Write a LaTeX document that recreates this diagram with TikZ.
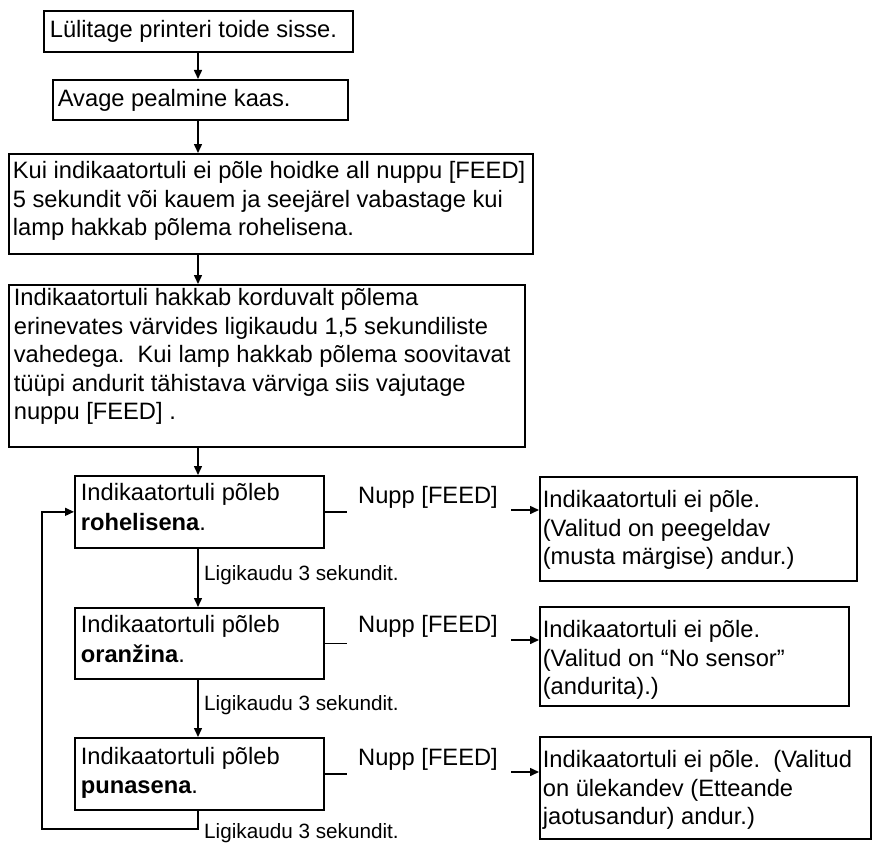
\documentclass[tikz,border=0pt]{standalone}
\usepackage{fontspec}
\setmainfont{Liberation Sans}
\usetikzlibrary{arrows.meta}
\newcommand{\bt}[4]{\parbox[t][#2][t]{#1}{\raggedright\rule{0pt}{#3}#4}}
\begin{document}
\begin{tikzpicture}[x=1pt,y=-1pt,
  box/.style={draw, line width=1.7pt, anchor=north west, inner ysep=0pt,
    font=\fontsize{23.7}{28.5}\selectfont},
  lab/.style={anchor=base west, inner sep=0pt, font=\fontsize{23.7}{28.5}\selectfont},
  slab/.style={anchor=base west, inner sep=0pt, font=\fontsize{20.7}{24}\selectfont},
  conn/.style={line width=1.5pt},
  arr/.style={conn, -{Triangle[length=9pt,width=8pt]}}]
\useasboundingbox (0,0) rectangle (873,843);

% main column
\node[box, inner xsep=6pt] (b1) at (43,10) {\bt{297pt}{41pt}{27pt}{Lülitage printeri toide sisse.}};
\node[box, inner xsep=5pt] (b2) at (52,79) {\bt{285pt}{40pt}{27pt}{Avage pealmine kaas.}};
\node[box, inner xsep=4pt] (b3) at (8,153) {\bt{516pt}{100pt}{25pt}{Kui indikaatortuli ei põle hoidke all nuppu [FEED]\\
5 sekundit või kauem ja seejärel vabastage kui\\
lamp hakkab põlema rohelisena.}};
\node[box, inner xsep=5pt] (b4) at (8,284) {\bt{506pt}{162pt}{21pt}{Indikaatortuli hakkab korduvalt põlema\\
erinevates värvides ligikaudu 1,5 sekundiliste\\
vahedega.\ \ Kui lamp hakkab põlema soovitavat\\
tüüpi andurit tähistava värviga siis vajutage\\
nuppu [FEED] .}};

% colour boxes
\node[box, inner xsep=6pt] (green) at (74,475) {\bt{237pt}{72pt}{25pt}{Indikaatortuli põleb\\[1.5pt] \textbf{rohelisena}.}};
\node[box, inner xsep=6pt] (orange) at (74,607) {\bt{237pt}{71pt}{25pt}{Indikaatortuli põleb\\[1.5pt] \textbf{oranžina}.}};
\node[box, inner xsep=6pt] (red) at (74,737) {\bt{237pt}{72pt}{27pt}{Indikaatortuli põleb\\[0.5pt] \textbf{punasena}.}};

% result boxes
\node[box, inner xsep=3pt] (r1) at (539,476) {\bt{311pt}{104pt}{31pt}{Indikaatortuli ei põle.\\
(Valitud on peegeldav\\
(musta märgise) andur.)}};
\node[box, inner xsep=3pt] (r2) at (539,606) {\bt{303pt}{99pt}{31pt}{Indikaatortuli ei põle.\\
(Valitud on “No sensor”\\
(andurita).)}};
\node[box, inner xsep=3pt] (r3) at (539,736) {\bt{325pt}{102pt}{31pt}{Indikaatortuli ei põle.\ \ (Valitud\\
on ülekandev (Etteande\\
jaotusandur) andur.)}};

% labels
\node[lab] (nupp1) at (358,503) {Nupp [FEED]};
\node[lab] (nupp2) at (358,632) {Nupp [FEED]};
\node[lab] (nupp3) at (358,765) {Nupp [FEED]};
\node[slab] (lig1) at (204,580) {Ligikaudu 3 sekundit.};
\node[slab] (lig2) at (204,710) {Ligikaudu 3 sekundit.};
\node[slab] (lig3) at (204,838) {Ligikaudu 3 sekundit.};

% vertical connectors
\coordinate (col) at (198,0);
\draw[arr] (b1.south -| col) -- (b2.north -| col);
\draw[arr] (b2.south -| col) -- (b3.north -| col);
\draw[arr] (b3.south -| col) -- (b4.north -| col);
\draw[arr] (b4.south -| col) -- (green.north -| col);
\draw[arr] (green.south -| col) -- (orange.north -| col);
\draw[arr] (orange.south -| col) -- (red.north -| col);

% loop back
\coordinate (lb) at (42,829);
\draw[arr] (red.south -| col) -- (col |- lb) -- (lb) |- (green.west);

% side connectors
\coordinate (s) at (347,0);
\draw[conn] (green.east) -- (green.east -| s);
\draw[conn] (orange.east) -- (orange.east -| s);
\draw[conn] (red.east) -- (red.east -| s);
\coordinate (t1) at (511,510);
\coordinate (t2) at (511,640);
\coordinate (t3) at (511,772);
\draw[arr] (t1) -- (t1 -| r1.west);
\draw[arr] (t2) -- (t2 -| r2.west);
\draw[arr] (t3) -- (t3 -| r3.west);
\end{tikzpicture}
\end{document}
